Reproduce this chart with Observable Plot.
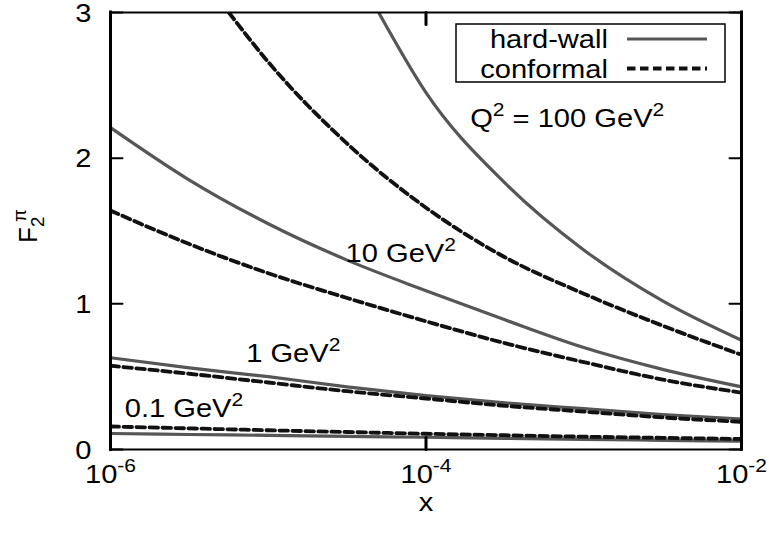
<!DOCTYPE html>
<html>
<head>
<meta charset="utf-8">
<script src="https://cdn.jsdelivr.net/npm/d3@7"></script>
<script src="https://cdn.jsdelivr.net/npm/@observablehq/plot@0.6"></script>
<style>
  html, body { margin: 0; padding: 0; background: #fff; }
  #chart { width: 769px; height: 533px; }
</style>
</head>
<body>
<div id="chart"></div>
<script>
// Pion structure function F2 versus Bjorken x, hard-wall and conformal models,
// at four photon virtualities Q^2. x positions are given as log10(x).

// Q^2 = 100 GeV^2 (curves leave the top of the frame at small x)
const hw100X = [-4.30, -4.0, -3.5, -3.0, -2.5, -2.0];
const hw100F = [3.00, 2.45, 1.83, 1.37, 1.02, 0.75];
const cf100X = [-5.25, -5.0, -4.5, -4.0, -3.5, -3.0, -2.5, -2.0];
const cf100F = [3.00, 2.66, 2.10, 1.66, 1.32, 1.07, 0.85, 0.65];

// Q^2 = 10, 1, 0.1 GeV^2 on a common grid
const gridX  = [-6, -5.5, -5, -4.5, -4, -3.5, -3, -2.5, -2];
const hw10F  = [2.21, 1.85, 1.55, 1.30, 1.09, 0.89, 0.70, 0.55, 0.43];
const cf10F  = [1.64, 1.41, 1.21, 1.04, 0.88, 0.73, 0.60, 0.48, 0.39];
const hw1F   = [0.63, 0.56, 0.50, 0.43, 0.37, 0.32, 0.28, 0.24, 0.21];
const cf1F   = [0.575, 0.52, 0.46, 0.40, 0.35, 0.30, 0.26, 0.22, 0.19];
const hw01F  = [0.110, 0.103, 0.097, 0.090, 0.084, 0.077, 0.070, 0.063, 0.057];
const cf01F  = [0.158, 0.145, 0.132, 0.120, 0.108, 0.098, 0.088, 0.080, 0.072];

// curve annotations
const labelText = ["Q^2 = 100 GeV^2", "10 GeV^2", "1 GeV^2", "0.1 GeV^2"];
const labelX    = [-3.72, -4.51, -5.14, -5.91];
const labelF    = [2.27, 1.345, 0.66, 0.28];

// axes
const xDomainExp = [-6, -2];
const xTickExp   = [-6, -4, -2];
const yDomain    = [0, 3];
const yTicks     = [0, 1, 2, 3];

// legend
const modelNames = ["hard-wall", "conformal"];

const modelStyle = {
  "hard-wall": {stroke: "#565656", strokeWidth: 3.2, dash: null},
  "conformal": {stroke: "#111111", strokeWidth: 3.8, dash: "8.5,4.5"}
};

const FONT = "'Liberation Sans', Arial, Helvetica, sans-serif";
const FONT_SIZE = 26;
const STRETCH = 1.12;

function toRows(model, q2, xs, fs) {
  return xs.map((e, i) => ({model, q2, x: 10 ** e, F: fs[i]}));
}
const rows = [
  ...toRows("hard-wall", "100", hw100X, hw100F),
  ...toRows("conformal", "100", cf100X, cf100F),
  ...toRows("hard-wall", "10", gridX, hw10F),
  ...toRows("conformal", "10", gridX, cf10F),
  ...toRows("hard-wall", "1", gridX, hw1F),
  ...toRows("conformal", "1", gridX, cf1F),
  ...toRows("hard-wall", "0.1", gridX, hw01F),
  ...toRows("conformal", "0.1", gridX, cf01F)
];
const labels = labelText.map((t, i) => ({t, x: 10 ** labelX[i], F: labelF[i]}));

// inward tick drawn as a plain segment
const tickShape = {draw(ctx, l) { ctx.moveTo(0, 0); ctx.lineTo(0, -l); }};

const lineMarks = modelNames.map((m) => Plot.line(rows.filter((d) => d.model === m), {
  x: "x", y: "F", z: "q2",
  stroke: modelStyle[m].stroke,
  strokeWidth: modelStyle[m].strokeWidth,
  strokeDasharray: modelStyle[m].dash,
  curve: "monotone-x",
  clip: true
}));

const chart = Plot.plot({
  width: 769,
  height: 533,
  marginLeft: 110,
  marginRight: 28,
  marginTop: 12,
  marginBottom: 84,
  style: {fontFamily: FONT, background: "#fff", color: "#000", overflow: "visible"},
  x: {type: "log", domain: xDomainExp.map((e) => 10 ** e), axis: null},
  y: {domain: yDomain, axis: null},
  marks: [
    ...lineMarks,
    // frame
    Plot.ruleX(xDomainExp, {x: (e) => 10 ** e, stroke: "#000", strokeWidth: 3, strokeLinecap: "square"}),
    Plot.ruleY(yDomain, {y: (d) => d, stroke: "#000", strokeWidth: 2, strokeLinecap: "square"}),
    // inward ticks on all four sides
    Plot.vector(yTicks, {y: (d) => d, frameAnchor: "left", rotate: 90, length: 12, anchor: "start", shape: tickShape, stroke: "#000", strokeWidth: 2}),
    Plot.vector(yTicks, {y: (d) => d, frameAnchor: "right", rotate: -90, length: 12, anchor: "start", shape: tickShape, stroke: "#000", strokeWidth: 2}),
    Plot.vector(xTickExp, {x: (e) => 10 ** e, frameAnchor: "bottom", rotate: 0, length: 12, anchor: "start", shape: tickShape, stroke: "#000", strokeWidth: 3}),
    Plot.vector(xTickExp, {x: (e) => 10 ** e, frameAnchor: "top", rotate: 180, length: 12, anchor: "start", shape: tickShape, stroke: "#000", strokeWidth: 3}),
    // tick labels
    Plot.text(yTicks, {y: (d) => d, text: (d) => String(d), frameAnchor: "left", textAnchor: "end", lineAnchor: "middle", dx: -19, dy: 1, fontSize: FONT_SIZE, fill: "#000"}),
    Plot.text(xTickExp, {x: (e) => 10 ** e, text: (e) => `10^${e}`, frameAnchor: "bottom", textAnchor: "middle", lineAnchor: "middle", dy: 25, fontSize: FONT_SIZE, fill: "#000"}),
    // axis titles
    Plot.text(["x"], {text: (d) => d, frameAnchor: "bottom", textAnchor: "middle", lineAnchor: "middle", dy: 53.5, fontSize: FONT_SIZE, fill: "#000"}),
    Plot.text(["F_2^π"], {text: (d) => d, frameAnchor: "left", rotate: -90, textAnchor: "middle", lineAnchor: "middle", dx: -82, dy: -5, fontSize: FONT_SIZE, fill: "#000"}),
    // curve annotations
    Plot.text(labels, {x: "x", y: "F", text: "t", textAnchor: "start", lineAnchor: "middle", fontSize: FONT_SIZE, fill: "#000"})
  ]
});

document.getElementById("chart").appendChild(chart);
const svg = d3.select(chart);

// legend box in the upper right of the frame
const legendBox = {x: 456, y: 24, w: 269, h: 58};
const leg = svg.append("g").attr("font-family", FONT).attr("font-size", FONT_SIZE);
leg.append("rect")
  .attr("x", legendBox.x).attr("y", legendBox.y)
  .attr("width", legendBox.w).attr("height", legendBox.h)
  .attr("fill", "#fff").attr("stroke", "#000").attr("stroke-width", 1.5);
modelNames.forEach((m, i) => {
  const cy = legendBox.y + 15 + i * 29.5;
  leg.append("text")
    .attr("transform", `translate(${legendBox.x + 152},${cy})`)
    .attr("text-anchor", "end").attr("dy", "0.35em").attr("fill", "#000")
    .text(m);
  leg.append("line")
    .attr("x1", legendBox.x + 171).attr("x2", legendBox.x + 251)
    .attr("y1", cy).attr("y2", cy)
    .attr("stroke", modelStyle[m].stroke)
    .attr("stroke-width", modelStyle[m].strokeWidth)
    .attr("stroke-dasharray", modelStyle[m].dash);
});

// superscripts (^) and subscripts (_) inside text labels
function richText(el) {
  const str = el.textContent;
  if (!/[\^_]/.test(str)) return;
  const fs = parseFloat(getComputedStyle(el).fontSize) || FONT_SIZE;
  el.textContent = "";
  let shift = 0, prev = null;
  const re = /([\^_])([^\s\^_]+)|([^\^_]+)/g;
  let m;
  while ((m = re.exec(str))) {
    const ts = document.createElementNS("http://www.w3.org/2000/svg", "tspan");
    let target, size = fs;
    if (m[1] === "^") { target = -0.42 * fs; size = 0.72 * fs; ts.textContent = m[2]; }
    else if (m[1] === "_") { target = 0.28 * fs; size = 0.72 * fs; ts.textContent = m[2]; }
    else { target = 0; ts.textContent = m[3]; }
    ts.setAttribute("dy", target - shift);
    ts.setAttribute("font-size", size);
    if (m[1] === "^" && prev === "_") ts.setAttribute("dx", -0.2 * fs);
    shift = target;
    prev = m[1] || null;
    el.appendChild(ts);
  }
}
svg.selectAll("text").each(function () { richText(this); });

// slightly wide lettering
svg.selectAll("text").each(function () {
  const t = this.getAttribute("transform") || "";
  if (/rotate/.test(t)) return;
  this.setAttribute("transform", `${t} scale(${STRETCH},1)`);
});
</script>
</body>
</html>
